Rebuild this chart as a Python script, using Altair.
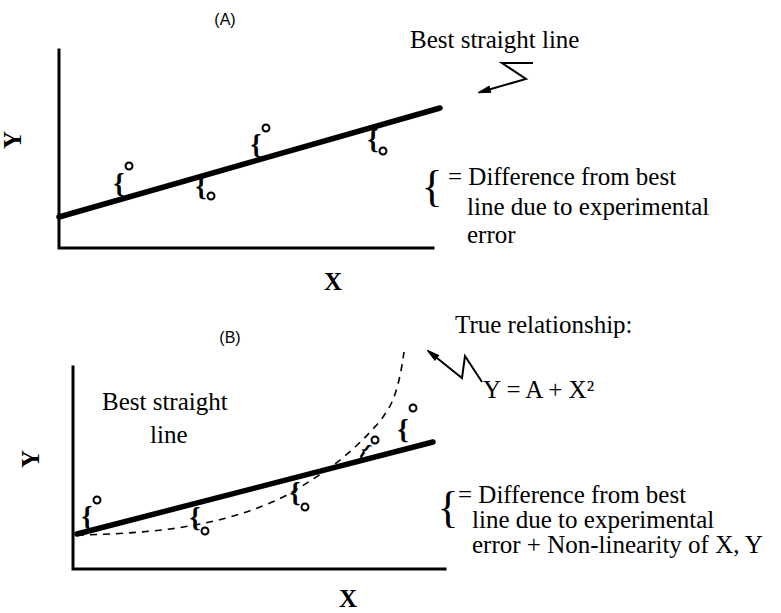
import altair as alt
import numpy as np
import pandas as pd

# Drawing space: x grows to the right, y grows downward
W, H = 781, 613

# ---- Panel (A): measurements scattered about a straight line ----
axes_a_x = [59, 59, 433]
axes_a_y = [50, 248, 248]
fit_a_x = [59, 440]
fit_a_y = [217, 108]
obs_a_x = [129, 211, 266, 383]
obs_a_y = [166, 196, 128, 151]

# ---- Panel (B): a straight line laid through a quadratic trend ----
axes_b_x = [73, 73, 445]
axes_b_y = [367, 569, 569]
fit_b_x = [77, 433]
fit_b_y = [534, 442]
true_b_x = [77, 110, 140, 170, 200, 230, 260, 285, 310, 335, 355, 372, 385, 394, 399, 402, 404]
true_b_y = [535, 534, 532, 529, 524, 517, 507, 496, 481, 464, 447, 430, 414, 397, 380, 365, 352]
obs_b_x = [97, 205, 305, 375, 413]
obs_b_y = [500, 531, 507, 440, 408]

# ---- Pointer arrows (zig-zag leaders) ----
arrow_a_x = [533, 502, 526, 484]
arrow_a_y = [63, 63, 79, 91]
arrow_b_x = [482, 465, 462, 432]
arrow_b_y = [382, 356, 378, 354]

# ---- Text ----
note_text = [
    "Best straight line",
    "= Difference from best",
    "line due to experimental",
    "error",
    "True relationship:",
    "Y = A + X\u00b2",
    "= Difference from best",
    "line due to experimental",
    "error + Non-linearity of X, Y",
    "Best straight",
    "line",
]
note_x = [410, 448, 467, 467, 455, 483, 458, 472, 472, 102, 150]
note_y = [48, 185, 215, 243, 333, 398, 503, 528, 553, 410, 443]

tag_text = ["(A)", "(B)"]
tag_x = [225, 230]
tag_y = [20, 338]

xlab_x = [333, 348]
xlab_y = [290, 607]
ylab_x = [13, 31]
ylab_y = [140, 459]

brace_x = [432, 448]
brace_y = [188, 509]

SERIF = "Liberation Serif"
SANS = "Liberation Sans"
ARROWHEAD = "M0,-1L0.5,1L-0.5,1Z"

XS = alt.Scale(domain=[0, W], nice=False, zero=False)
YS = alt.Scale(domain=[0, H], nice=False, zero=False, reverse=True)


def xy(chart, **extra):
    return chart.encode(
        x=alt.X("x:Q", scale=XS, axis=None),
        y=alt.Y("y:Q", scale=YS, axis=None),
        **extra,
    )


def polylines(named):
    rows = []
    for name, (xs, ys) in named.items():
        for i, (a, b) in enumerate(zip(xs, ys)):
            rows.append({"series": name, "i": i, "x": a, "y": b})
    return pd.DataFrame(rows)


axes_df = polylines({"A": (axes_a_x, axes_a_y), "B": (axes_b_x, axes_b_y)})
fit_df = polylines({"A": (fit_a_x, fit_a_y), "B": (fit_b_x, fit_b_y)})
true_df = polylines({"B": (true_b_x, true_b_y)})
arrow_df = polylines({"A": (arrow_a_x, arrow_a_y), "B": (arrow_b_x, arrow_b_y)})

obs_df = pd.DataFrame({"x": obs_a_x + obs_b_x, "y": obs_a_y + obs_b_y})

# residual braces sit just left of each observation, halfway to the fitted line
brace_rows = []
for panel, fx, fy, ox, oy in [
    ("A", fit_a_x, fit_a_y, obs_a_x, obs_a_y),
    ("B", fit_b_x, fit_b_y, obs_b_x, obs_b_y),
]:
    for k, (px, py) in enumerate(zip(ox, oy)):
        bx = px - 10
        line_y = float(np.interp(bx, fx, fy))
        tilt = 35 if (panel == "B" and k == 3) else 0
        size = 20 if tilt else 28
        brace_rows.append({"x": bx, "y": (line_y + py) / 2 + 1, "angle": tilt, "size": size})
brace_small_df = pd.DataFrame(brace_rows)

# arrowheads at the end of each leader, turned along its last segment
head_rows = []
for xs, ys in [(arrow_a_x, arrow_a_y), (arrow_b_x, arrow_b_y)]:
    dx, dy = xs[-1] - xs[-2], ys[-1] - ys[-2]
    direction = np.degrees(np.arctan2(dy, dx))
    head_rows.append({"x": float(xs[-1]), "y": float(ys[-1]), "angle": float((direction - 270) % 360)})
head_df = pd.DataFrame(head_rows)

notes_df = pd.DataFrame({"x": note_x, "y": note_y, "t": note_text})
tags_df = pd.DataFrame({"x": tag_x, "y": tag_y, "t": tag_text})
xlab_df = pd.DataFrame({"x": xlab_x, "y": xlab_y, "t": ["X", "X"]})
ylab_df = pd.DataFrame({"x": ylab_x, "y": ylab_y, "t": ["Y", "Y"]})
brace_df = pd.DataFrame({"x": brace_x, "y": brace_y, "t": ["{", "{"]})

axes_layer = xy(
    alt.Chart(axes_df).mark_line(color="black", strokeWidth=3, strokeJoin="miter", strokeCap="square"),
    detail="series:N", order="i:Q",
)
fit_layer = xy(
    alt.Chart(fit_df).mark_line(color="black", strokeWidth=5.5, strokeCap="round"),
    detail="series:N", order="i:Q",
)
true_layer = xy(
    alt.Chart(true_df).mark_line(color="black", strokeWidth=1.6, strokeDash=[7, 6], interpolate="monotone"),
    detail="series:N", order="i:Q",
)
arrow_layer = xy(
    alt.Chart(arrow_df).mark_line(color="black", strokeWidth=2, strokeJoin="miter"),
    detail="series:N", order="i:Q",
)
head_layer = xy(
    alt.Chart(head_df).mark_point(shape=ARROWHEAD, filled=True, fill="black", stroke="black",
                                  strokeWidth=1, size=150, opacity=1, fillOpacity=1),
    angle=alt.Angle("angle:Q", scale=None),
)
obs_layer = xy(
    alt.Chart(obs_df).mark_point(shape="circle", filled=False, color="black", size=48, strokeWidth=2, opacity=1)
)
small_brace_layer = xy(
    alt.Chart(brace_small_df).mark_text(text="{", font=SERIF, fontWeight="bold", color="black",
                                        align="center", baseline="middle"),
    angle=alt.Angle("angle:Q", scale=None),
    size=alt.Size("size:Q", scale=None),
)
notes_layer = xy(
    alt.Chart(notes_df).mark_text(font=SERIF, fontSize=25, color="black", align="left", baseline="alphabetic"),
    text="t:N",
)
tags_layer = xy(
    alt.Chart(tags_df).mark_text(font=SANS, fontSize=16, color="black", align="center", baseline="middle"),
    text="t:N",
)
xlab_layer = xy(
    alt.Chart(xlab_df).mark_text(font=SERIF, fontSize=25, fontWeight="bold", color="black", align="center", baseline="alphabetic"),
    text="t:N",
)
ylab_layer = xy(
    alt.Chart(ylab_df).mark_text(font=SERIF, fontSize=25, fontWeight="bold", color="black", align="center", baseline="middle", angle=270),
    text="t:N",
)
brace_layer = xy(
    alt.Chart(brace_df).mark_text(font=SERIF, fontSize=44, color="black", align="center", baseline="middle"),
    text="t:N",
)

chart = alt.layer(
    axes_layer, true_layer, fit_layer, arrow_layer, head_layer, obs_layer,
    small_brace_layer, brace_layer, notes_layer, tags_layer, xlab_layer, ylab_layer,
).properties(
    width=W, height=H, padding=0, autosize=alt.AutoSizeParams(type="none"), background="white"
).configure_view(stroke=None)

chart.save("out.html", embed_options={"renderer": "svg", "actions": False})
